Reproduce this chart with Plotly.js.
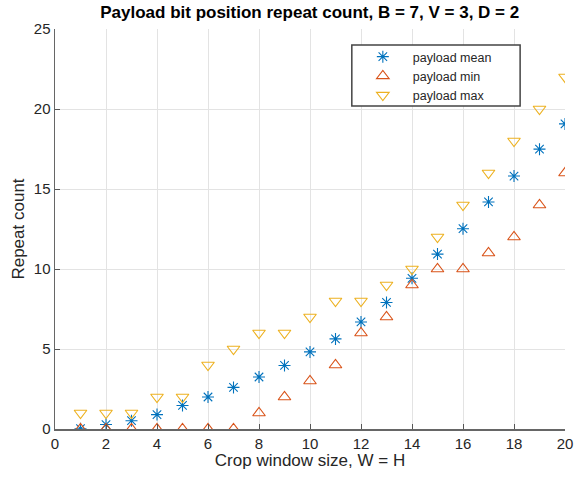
<!DOCTYPE html>
<html>
<head>
<meta charset="utf-8">
<script src="https://cdn.plot.ly/plotly-3.0.1.min.js"></script>
<style>html,body{margin:0;padding:0;background:#fff;}#chart{width:580px;height:478px;}</style>
</head>
<body>
<div id="chart"></div>
<script>
const windowSize = [1,2,3,4,5,6,7,8,9,10,11,12,13,14,15,16,17,18,19,20];
const payloadMean = [0.02,0.28,0.52,0.9,1.47,2.0,2.6,3.25,3.97,4.82,5.63,6.69,7.91,9.42,10.93,12.52,14.19,15.81,17.49,19.07];
const payloadMin = [0,0,0,0,0,0,0,1,2,3,4,6,7,9,10,10,11,12,14,16];
const payloadMax = [1,1,1,2,2,4,5,6,6,7,8,8,9,10,12,14,16,18,20,22];
const xTicks = [0,2,4,6,8,10,12,14,16,18,20];
const yTicks = [0,5,10,15,20,25];

const font = 'Liberation Sans, Arial, Helvetica, sans-serif';
const traces = [
  {x: windowSize, y: payloadMean, name: 'payload mean', mode: 'markers', type: 'scatter',
   marker: {symbol: 'asterisk-open', size: 10, color: '#0072BD', line: {color: '#0072BD', width: 1.1}}},
  {x: windowSize, y: payloadMin, name: 'payload min', mode: 'markers', type: 'scatter',
   marker: {symbol: 'triangle-up-open', size: 11, color: '#D95319', line: {color: '#D95319', width: 1.1}}},
  {x: windowSize, y: payloadMax, name: 'payload max', mode: 'markers', type: 'scatter',
   marker: {symbol: 'triangle-down-open', size: 11, color: '#EDB120', line: {color: '#EDB120', width: 1.1}}}
];
const layout = {
  width: 580, height: 478,
  margin: {l: 55, r: 15, t: 29, b: 49},
  paper_bgcolor: '#fff', plot_bgcolor: '#fff',
  font: {family: font, color: '#262626'},
  title: {text: '<b>Payload bit position repeat count, B = 7, V = 3, D = 2</b>', x: 0.534, xanchor: 'center', y: 0.988, yanchor: 'top',
          font: {family: font, size: 17, color: '#000'}},
  xaxis: {range: [0, 20], tickvals: xTicks, ticktext: xTicks.map(String), ticks: 'inside', ticklen: 5,
          tickcolor: '#555', showline: true, linecolor: '#666', linewidth: 1.5, zeroline: false,
          showgrid: true, gridcolor: '#e3e3e3', tickfont: {size: 15, color: '#262626'},
          title: {text: 'Crop window size, W = H', font: {size: 17, color: '#262626'}, standoff: 3}},
  yaxis: {range: [0, 25], tickvals: yTicks, ticktext: yTicks.map(String), ticks: 'inside', ticklen: 5,
          tickcolor: '#555', showline: true, linecolor: '#666', linewidth: 1.5, zeroline: false,
          showgrid: true, gridcolor: '#e3e3e3', tickfont: {size: 15, color: '#262626'},
          title: {text: 'Repeat count', font: {size: 17, color: '#262626'}, standoff: 5}},
  shapes: [{type: 'rect', xref: 'paper', yref: 'paper', x0: 0.582, x1: 0.912, y0: 0.8075, y1: 0.96,
            layer: 'above', fillcolor: '#fff', line: {color: '#444', width: 1.5}}],
  showlegend: true,
  legend: {x: 0.584, y: 0.9675, xanchor: 'left', yanchor: 'top', bgcolor: 'rgba(0,0,0,0)',
           borderwidth: 0, font: {size: 12.5, color: '#262626'}, itemwidth: 50, tracegroupgap: 0}
};
Plotly.newPlot('chart', traces, layout, {displayModeBar: false, staticPlot: true});
</script>
</body>
</html>
